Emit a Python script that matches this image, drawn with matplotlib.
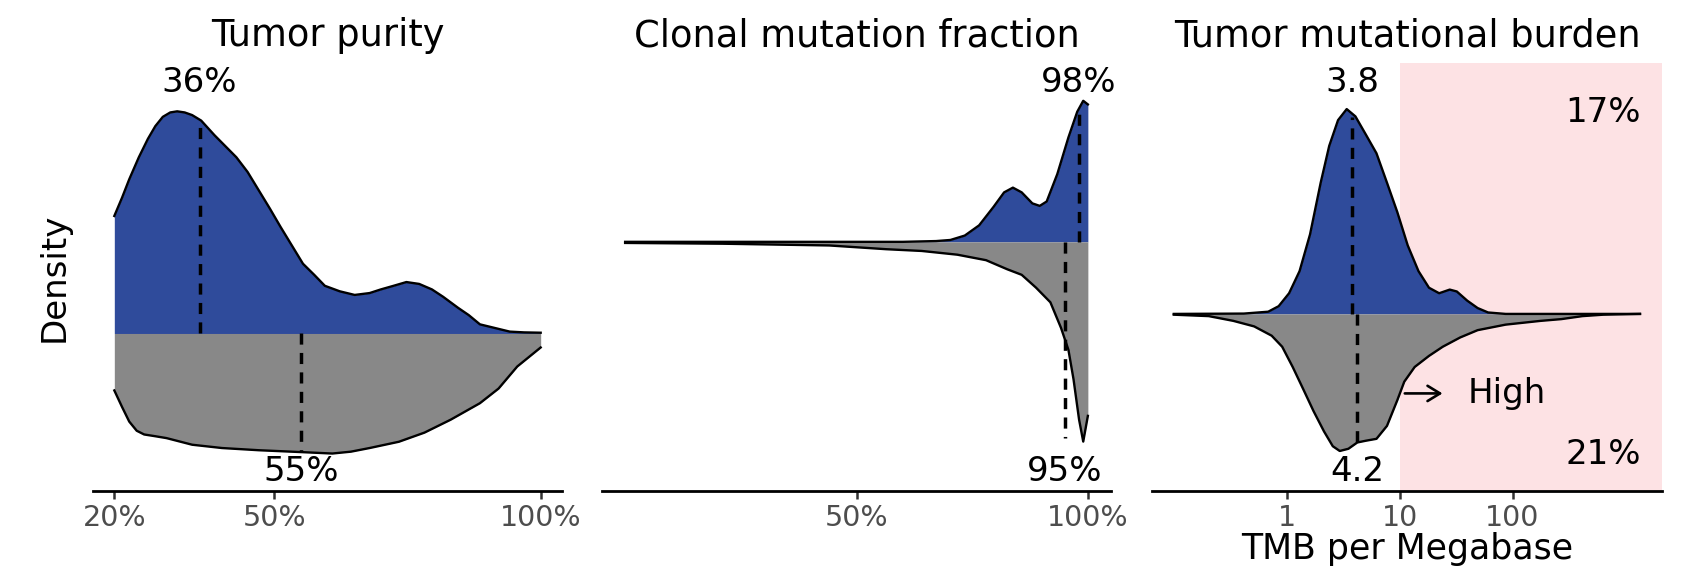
import numpy as np
import matplotlib
matplotlib.use("Agg")
import matplotlib.pyplot as plt

# --------- Data ---------
# Tumor purity (%), top = blue group, bottom = gray group
purity_top_x = [20, 21.45, 22.8, 24.6, 26.3, 27.7, 29.1, 30.5, 31.8, 33.2, 34.6,
                36.3, 38.8, 42.9, 45.0, 47.1, 49.2, 51.2, 53.3, 55.4, 57.5, 59.5,
                62.3, 65.1, 67.9, 70.0, 72.4, 74.8, 77.2, 79.6, 81.7, 84.5, 86.5,
                88.6, 91.4, 94.2, 96.9, 100]
purity_top = [1.067, 1.233, 1.40, 1.60, 1.767, 1.883, 1.967, 2.007, 2.017, 2.007,
              1.983, 1.933, 1.80, 1.60, 1.467, 1.30, 1.133, 0.967, 0.80, 0.633,
              0.533, 0.433, 0.383, 0.35, 0.367, 0.40, 0.433, 0.467, 0.45, 0.40,
              0.333, 0.233, 0.167, 0.083, 0.05, 0.017, 0.01, 0.007]
purity_bot_x = [20, 21.45, 22.8, 24.2, 25.6, 27.7, 29.8, 34.6, 40.2, 47.1, 55.1,
                60.9, 64.4, 67.9, 73.4, 78.2, 83.1, 88.6, 92.1, 95.6, 100]
purity_bot = [0.517, 0.667, 0.80, 0.883, 0.917, 0.933, 0.95, 1.01, 1.04, 1.06,
              1.077, 1.09, 1.073, 1.04, 0.983, 0.90, 0.783, 0.633, 0.50, 0.30, 0.127]
purity_medians = [36, 55]

# Clonal mutation fraction (%)
clonal_top_x = [0, 20, 40, 60, 67.2, 70.3, 73.4, 76.5, 79.6, 81.9, 83.8, 85.7,
                88.0, 89.6, 91.1, 93.4, 95.8, 97.7, 99.0, 100]
clonal_top = [0, 0, 0, 0, 0.007, 0.017, 0.057, 0.15, 0.317, 0.45, 0.493, 0.45,
              0.35, 0.327, 0.367, 0.617, 0.95, 1.183, 1.283, 1.25]
clonal_bot_x = [0, 20.9, 44.1, 56.4, 64.1, 71.8, 78.0, 82.6, 85.7, 88.8, 91.9,
                94.2, 95.8, 96.9, 98.1, 99.0, 100]
clonal_bot = [0.01, 0.017, 0.033, 0.067, 0.083, 0.117, 0.167, 0.25, 0.30, 0.417,
              0.55, 0.783, 0.983, 1.25, 1.617, 1.817, 1.583]
clonal_medians = [98, 95]

# Tumor mutational burden (per Mb, log scale)
tmb_top_x = [0.1, 0.417, 0.686, 0.849, 1.05, 1.30, 1.61, 2.0, 2.38, 2.85, 3.40,
             4.06, 5.04, 6.24, 7.73, 9.55, 11.8, 14.7, 18.2, 22.4, 27.8, 32.1,
             39.7, 49.1, 60.8, 86.9, 1346]
tmb_top = [0, 0.003, 0.02, 0.07, 0.187, 0.387, 0.72, 1.187, 1.52, 1.753, 1.853,
           1.787, 1.62, 1.453, 1.187, 0.92, 0.62, 0.387, 0.237, 0.187, 0.22, 0.203,
           0.12, 0.053, 0.013, 0, 0]
tmb_bot_x = [0.1, 0.204, 0.337, 0.515, 0.736, 0.912, 1.13, 1.40, 1.73, 2.14, 2.56,
             2.95, 3.52, 4.22, 5.04, 6.24, 7.73, 9.55, 11.0, 13.6, 18.2, 24.1, 34.4,
             49.1, 86.9, 177, 271, 416, 637, 1346]
tmb_bot = [0.007, 0.02, 0.063, 0.113, 0.197, 0.297, 0.48, 0.68, 0.88, 1.063, 1.197,
           1.24, 1.22, 1.163, 1.147, 1.13, 1.013, 0.78, 0.613, 0.48, 0.38, 0.297,
           0.213, 0.147, 0.097, 0.063, 0.047, 0.02, 0.007, 0]
tmb_medians = [3.8, 4.2]
tmb_high_cut = 10
tmb_high_pct = ["17%", "21%"]

# --------- Style ---------
BLUE = "#2f4b9b"
GRAY = "#888888"
PINK = "#fde2e4"
plt.rcParams["font.family"] = "DejaVu Sans"
plt.rcParams["lines.scale_dashes"] = False

fig = plt.figure(figsize=(16.86, 5.76), dpi=100)
W, H = 1686, 576
top_px, bot_px = 63, 491
ANN = 24.5


def make_ax(left_px, right_px):
    return fig.add_axes([left_px / W, 1 - bot_px / H,
                         (right_px - left_px) / W, (bot_px - top_px) / H])


def mirror_density(ax, tx, ty, bx, by, medians, labels, xlim):
    tx, ty, bx, by = map(np.asarray, (tx, ty, bx, by))
    ax.fill_between(tx, 0, ty, color=BLUE, lw=0, zorder=2)
    ax.fill_between(bx, -by, 0, color=GRAY, lw=0, zorder=2)
    ax.plot(tx, ty, color="black", lw=1.7, zorder=3, solid_joinstyle="round")
    ax.plot(bx, -by, color="black", lw=1.7, zorder=3, solid_joinstyle="round")
    tmax, bmax = ty.max(), by.max()
    ax.plot([medians[0]] * 2, [0, tmax * 0.96], color="black", lw=2.5,
            ls=(0, (8, 6)), zorder=4)
    ax.plot([medians[1]] * 2, [0, -bmax * 0.98], color="black", lw=2.5,
            ls=(0, (8, 6)), zorder=4)
    ytop, ybot = 1.13 * tmax, -1.15 * bmax
    ax.text(medians[0], ytop, labels[0], ha="center", va="center", fontsize=ANN)
    ax.text(medians[1], ybot, labels[1], ha="center", va="center", fontsize=ANN)
    pad = 0.05 * (ytop - ybot)
    ax.set_ylim(ybot - pad, ytop + pad)
    ax.set_xlim(*xlim)
    for s in ("top", "right", "left"):
        ax.spines[s].set_visible(False)
    ax.spines["bottom"].set_linewidth(2)
    ax.set_yticks([])
    ax.tick_params(axis="x", length=6, width=1.8, color="#333333",
                   labelsize=20.5, labelcolor="#4d4d4d", pad=3)


# Panel 1: Tumor purity
ax1 = make_ax(93, 562)
mirror_density(ax1, purity_top_x, purity_top, purity_bot_x, purity_bot,
               purity_medians, [f"{m}%" for m in purity_medians], (16, 104))
ax1.set_xticks([20, 50, 100])
ax1.set_xticklabels(["20%", "50%", "100%"])
ax1.set_title("Tumor purity", fontsize=26.5, pad=12)
ax1.set_ylabel("Density", fontsize=24.5, labelpad=16)

# Panel 2: Clonal mutation fraction
ax2 = make_ax(602, 1111)
mirror_density(ax2, clonal_top_x, clonal_top, clonal_bot_x, clonal_bot,
               clonal_medians, [f"{m}%" for m in clonal_medians], (-5, 105))
ax2.set_xticks([50, 100])
ax2.set_xticklabels(["50%", "100%"])
ax2.set_title("Clonal mutation fraction", fontsize=26.5, pad=12)

# Panel 3: Tumor mutational burden
ax3 = make_ax(1152, 1662)
ax3.set_xscale("log")
lo, hi = 10 ** -1.193, 10 ** 3.324
ax3.axvspan(tmb_high_cut, hi, color=PINK, lw=0, zorder=0)
mirror_density(ax3, tmb_top_x, tmb_top, tmb_bot_x, tmb_bot,
               tmb_medians, [f"{m}" for m in tmb_medians], (lo, hi))
ax3.set_xticks([1, 10, 100])
ax3.set_xticklabels(["1", "10", "100"])
ax3.minorticks_off()
ax3.set_title("Tumor mutational burden", fontsize=26.5, pad=12)
ax3.set_xlabel("TMB per Megabase", fontsize=25, labelpad=0)
ax3.text(0.959, 0.884, tmb_high_pct[0], transform=ax3.transAxes,
         ha="right", va="center", fontsize=ANN)
ax3.text(0.959, 0.086, tmb_high_pct[1], transform=ax3.transAxes,
         ha="right", va="center", fontsize=ANN)
xt = ax3.get_xaxis_transform()
ax3.annotate("", xy=(25.4, 0.228), xytext=(10.5, 0.228), xycoords=xt,
             textcoords=xt,
             arrowprops=dict(arrowstyle="->,head_length=0.9,head_width=0.55",
                             color="black", lw=1.9), zorder=5)
ax3.text(40.3, 0.228, "High", transform=xt, ha="left", va="center", fontsize=ANN)

fig.savefig("out.png", dpi=100)
